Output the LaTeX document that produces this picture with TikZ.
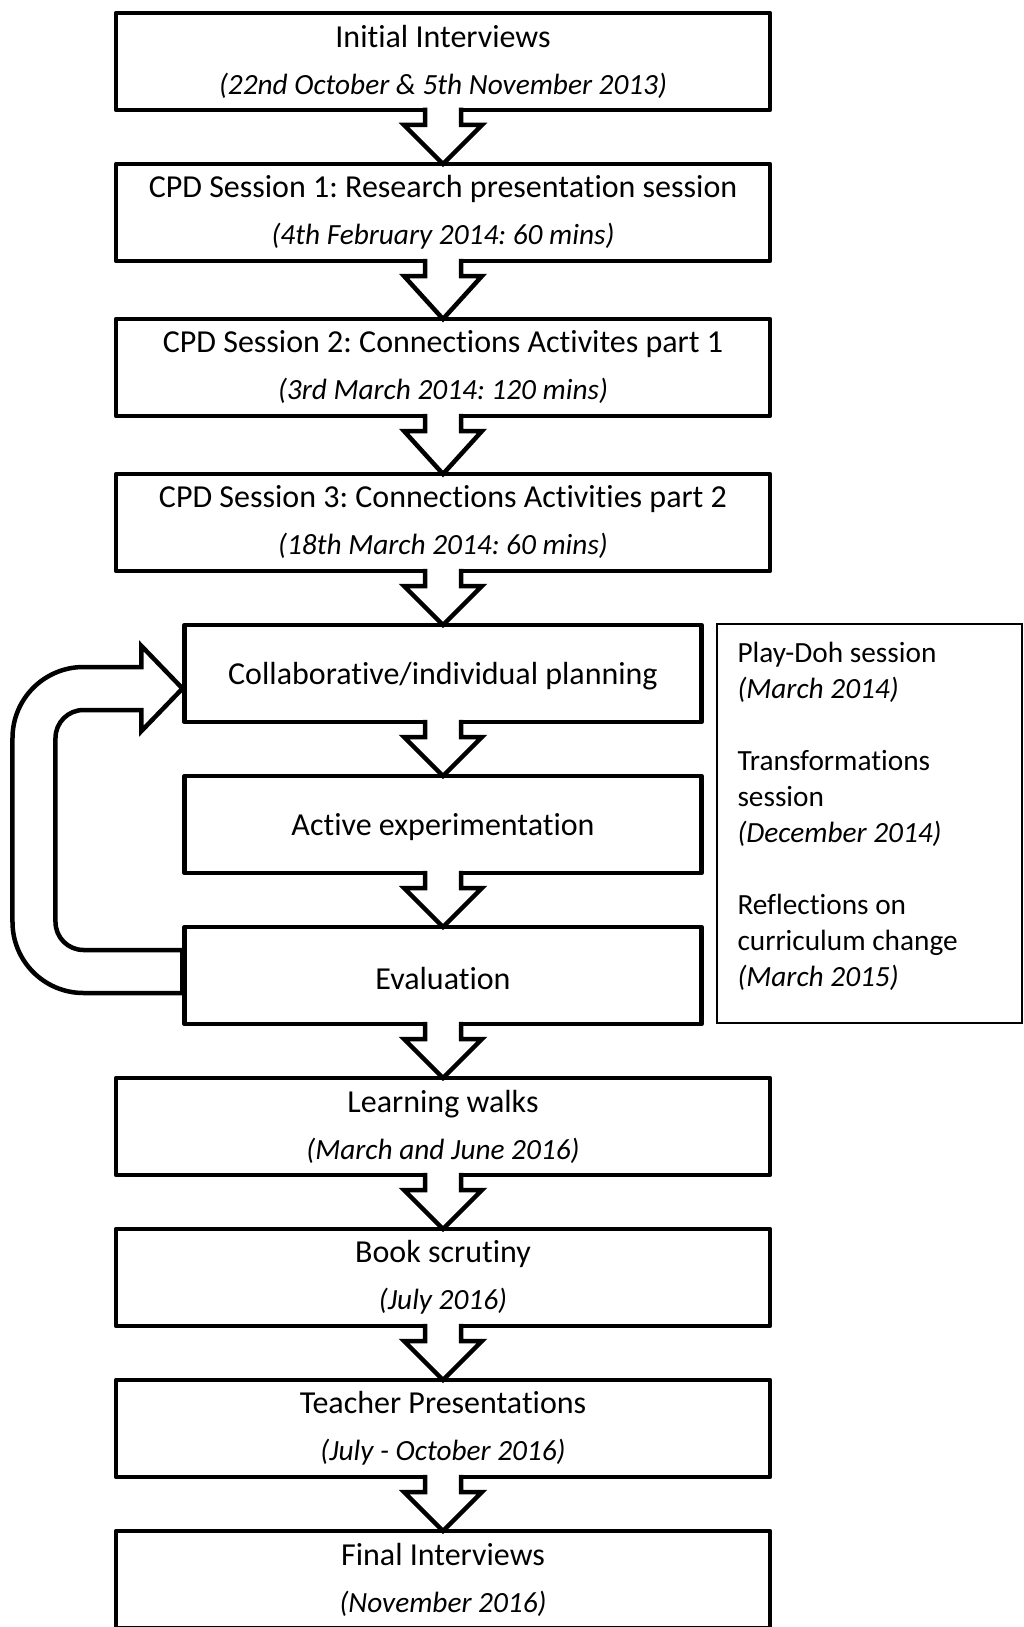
\documentclass[tikz,border=0pt]{standalone}
\usepackage{fontspec}
\setmainfont{Carlito}[RawFeature={-liga;-clig;-calt;-dlig}]
\usetikzlibrary{calc,chains,scopes}
\frenchspacing
\newcommand{\datefont}{\fontsize{29.3pt}{47pt}\selectfont\itshape}
\newcommand{\topstrut}{\rule{0pt}{28pt}}

\begin{document}
\begin{tikzpicture}[
                node distance = 54pt,
                StageBlock/.style={draw, line width=4.5pt, line join=round, fill=white, minimum width=654pt, minimum height=97pt, outer sep=0pt, align=center, font=\fontsize{32pt}{47pt}\selectfont, execute at begin node=\topstrut, on chain},
                LoopBlock/.style={StageBlock, minimum width=517pt},
                NoteBlock/.style={draw, line width=2pt, inner xsep=21pt, inner ysep=18pt, outer sep=0pt, font=\fontsize{29.3pt}{36pt}\selectfont},
                DownArrow/.style={draw, line width=4.5pt, line join=miter, fill=white,
                    to path={let \p1=(\tikztostart.south), \p2=(\tikztotarget.north) in
                        (\x1-18pt,\y1+2.25pt) -- (\x1-18pt,\y1-15pt) -- (\x1-39pt,\y1-15pt) -- (\x2,\y2)
                        -- (\x1+39pt,\y1-15pt) -- (\x1+18pt,\y1-15pt) -- (\x1+18pt,\y1+2.25pt)}},
                LoopArrow/.style={draw, line width=4.5pt, line join=miter, fill=white},
            ]
            \useasboundingbox (-443pt,61.5pt) rectangle (580pt,-1565.5pt);
            { [start chain = going below]
                \node [StageBlock] (init) {Initial Interviews\\{\datefont (22nd October \& 5th November 2013)}};
                \node [StageBlock] (cpd1) {CPD Session 1: Research presentation session\\{\datefont (4th February 2014: 60 mins)}};
                \node [node distance=58pt, StageBlock] (cpd2) {CPD Session 2: Connections Activites part 1\\{\datefont (3rd March 2014: 120 mins)}};
                \node [node distance=58pt, StageBlock] (cpd3) {CPD Session 3: Connections Activities part 2\\{\datefont (18th March 2014: 60 mins)}};
                \node [LoopBlock] (plan) {Collaborative/individual planning};
                \node [LoopBlock] (exper) {Active experimentation};
                \node [LoopBlock] (eval) {Evaluation};
                \node [StageBlock] (walks) {Learning walks\\{\datefont (March and June 2016)}};
                \node [StageBlock] (books) {Book scrutiny\\{\datefont (July 2016)}};
                \node [StageBlock] (talks) {Teacher Presentations\\{\datefont (July - October 2016)}};
                \node [StageBlock] (final) {Final Interviews\\{\datefont (November 2016)}};
            }
            \node [NoteBlock, anchor=north west] (notes) at ([xshift=15pt, yshift=1pt]plan.north east)
                {\parbox[c][363pt][t]{263pt}{\raggedright Play-Doh session\\\textit{(March 2014)}\\[36pt]
                Transformations\\session\\\textit{(December 2014)}\\[36pt]
                Reflections on\\curriculum change\\\textit{(March 2015)}}};
            \draw [DownArrow] (init) to (cpd1);
            \draw [DownArrow] (cpd1) to (cpd2);
            \draw [DownArrow] (cpd2) to (cpd3);
            \draw [DownArrow] (cpd3) to (plan);
            \draw [DownArrow] (plan) to (exper);
            \draw [DownArrow] (exper) to (eval);
            \draw [DownArrow] (eval) to (walks);
            \draw [DownArrow] (walks) to (books);
            \draw [DownArrow] (books) to (talks);
            \draw [DownArrow] (talks) to (final);
            % feedback loop
            \draw [LoopArrow] let \p1 = ([yshift=4pt]eval.west), \p2 = ([yshift=-15pt]plan.west) in
                (\x1-2pt,\y1-21.5pt) -- (\x1-101pt,\y1-21.5pt) arc [start angle=270, end angle=180, radius=71pt]
                -- (\x1-172pt,\y2-49.5pt) arc [start angle=180, end angle=90, radius=71pt]
                -- (\x2-43pt,\y2+21.5pt) -- (\x2-43pt,\y2+42.5pt) -- (\x2-2pt,\y2) -- (\x2-43pt,\y2-42.5pt) -- (\x2-43pt,\y2-21.5pt)
                -- (\x2-101pt,\y2-21.5pt) arc [start angle=90, end angle=180, radius=28pt]
                -- (\x1-129pt,\y1+49.5pt) arc [start angle=180, end angle=270, radius=28pt]
                -- (\x1-2pt,\y1+21.5pt) -- cycle;
        \end{tikzpicture}
\end{document}
